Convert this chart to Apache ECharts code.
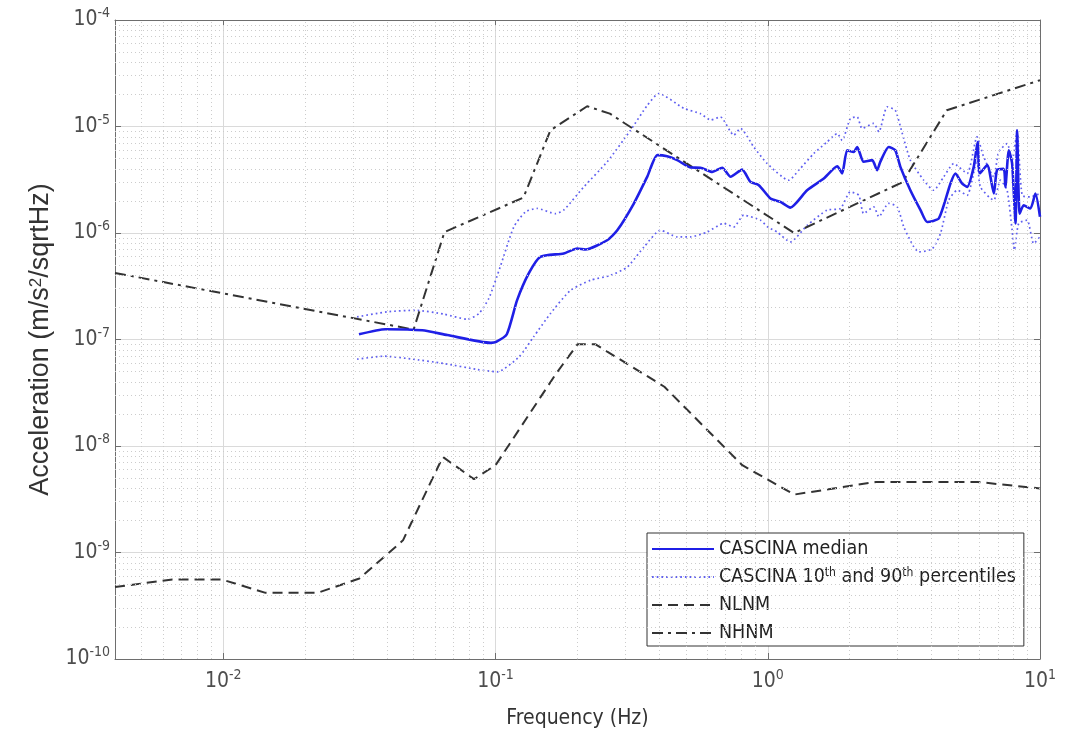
<!DOCTYPE html>
<html>
<head>
<meta charset="utf-8">
<script src="https://cdn.jsdelivr.net/npm/echarts@6/dist/echarts.min.js"></script>
<style>
  html, body { margin: 0; padding: 0; background: #fff; }
  #chart { width: 1066px; height: 735px; }
</style>
</head>
<body>
<div id="chart"></div>
<script>
// values (frequency in Hz, acceleration in m/s^2/sqrtHz)
var medFreq = [0.0315, 0.0394, 0.0538, 0.0665, 0.096, 0.1005, 0.110, 0.120, 0.1324, 0.146, 0.178, 0.1995, 0.214, 0.257, 0.280, 0.322, 0.3606, 0.393, 0.427, 0.465, 0.52, 0.566, 0.625, 0.68, 0.73, 0.805, 0.864, 0.927, 1.023, 1.113, 1.21, 1.395, 1.606, 1.80, 1.876, 1.957, 2.07, 2.13, 2.25, 2.42, 2.52, 2.59, 2.78, 2.94, 3.07, 3.34, 3.64, 3.85, 4.25, 4.69, 4.89, 5.17, 5.40, 5.71, 5.90, 6.01, 6.40, 6.77, 6.95, 7.36, 7.46, 7.68, 7.90, 8.13, 8.24, 8.42, 8.71, 9.22, 9.62, 10];
var medVal = [1.12e-7, 1.25e-7, 1.22e-7, 1.10e-7, 9.3e-8, 9.5e-8, 1.12e-7, 2.34e-7, 4.17e-7, 5.97e-7, 6.43e-7, 7.15e-7, 7.0e-7, 8.55e-7, 1.06e-6, 1.89e-6, 3.37e-6, 5.38e-6, 5.25e-6, 4.83e-6, 4.12e-6, 4.10e-6, 3.75e-6, 4.1e-6, 3.37e-6, 3.94e-6, 3.02e-6, 2.81e-6, 2.11e-6, 1.96e-6, 1.73e-6, 2.52e-6, 3.25e-6, 4.24e-6, 3.62e-6, 5.98e-6, 5.77e-6, 6.43e-6, 4.66e-6, 4.83e-6, 3.89e-6, 4.66e-6, 6.43e-6, 5.98e-6, 4.18e-6, 2.52e-6, 1.64e-6, 1.27e-6, 1.37e-6, 2.92e-6, 3.62e-6, 2.92e-6, 2.71e-6, 4.18e-6, 7.16e-6, 3.62e-6, 4.34e-6, 2.35e-6, 3.89e-6, 4.0e-6, 2.71e-6, 5.98e-6, 4.48e-6, 1.23e-6, 9.2e-6, 1.52e-6, 1.82e-6, 1.70e-6, 2.35e-6, 1.42e-6];

var p90Freq = [0.031, 0.040, 0.0508, 0.0646, 0.0787, 0.0868, 0.0945, 0.104, 0.1167, 0.1288, 0.142, 0.166, 0.178, 0.211, 0.257, 0.313, 0.361, 0.398, 0.492, 0.566, 0.617, 0.67, 0.75, 0.794, 0.888, 0.994, 1.194, 1.30, 1.476, 1.652, 1.80, 1.876, 2.01, 2.13, 2.22, 2.45, 2.56, 2.745, 2.94, 3.12, 3.34, 3.74, 4.07, 4.43, 4.82, 5.40, 5.87, 6.21, 6.76, 7.05, 7.57, 7.90, 8.24, 8.6, 9.22, 10];
var p90Val = [1.63e-7, 1.82e-7, 1.88e-7, 1.73e-7, 1.55e-7, 1.75e-7, 2.43e-7, 4.8e-7, 1.14e-6, 1.58e-6, 1.70e-6, 1.52e-6, 1.64e-6, 2.71e-6, 4.66e-6, 9.2e-6, 1.58e-5, 2.04e-5, 1.48e-5, 1.32e-5, 1.15e-5, 1.23e-5, 8.28e-6, 9.6e-6, 6.43e-6, 4.5e-6, 3.13e-6, 3.89e-6, 5.57e-6, 7.16e-6, 8.6e-6, 7.4e-6, 1.19e-5, 1.23e-5, 9.6e-6, 1.07e-5, 8.9e-6, 1.53e-5, 1.42e-5, 8.6e-6, 4.83e-6, 3.13e-6, 2.52e-6, 3.37e-6, 4.48e-6, 3.62e-6, 7.98e-6, 5.2e-6, 3.37e-6, 5.77e-6, 6.9e-6, 4.83e-6, 8.9e-6, 2.26e-6, 2.18e-6, 2.35e-6];

var p10Freq = [0.031, 0.0389, 0.0487, 0.0646, 0.0857, 0.1014, 0.122, 0.138, 0.159, 0.1886, 0.2234, 0.2645, 0.305, 0.351, 0.4036, 0.465, 0.52, 0.598, 0.689, 0.75, 0.816, 0.94, 1.0, 1.083, 1.21, 1.395, 1.652, 1.85, 2.01, 2.16, 2.25, 2.45, 2.56, 2.78, 2.99, 3.16, 3.44, 3.59, 4.02, 4.31, 4.62, 4.97, 5.40, 5.87, 6.04, 6.76, 7.16, 7.57, 7.90, 8.05, 8.35, 8.97, 9.48, 10];
var p10Val = [6.53e-8, 6.97e-8, 6.58e-8, 5.95e-8, 5.23e-8, 4.97e-8, 6.87e-8, 1.06e-7, 1.75e-7, 2.9e-7, 3.6e-7, 4.0e-7, 4.8e-7, 7.4e-7, 1.06e-6, 9.2e-7, 9.2e-7, 1.02e-6, 1.23e-6, 1.14e-6, 1.47e-6, 1.32e-6, 1.14e-6, 1.02e-6, 8.24e-7, 1.18e-6, 1.64e-6, 1.70e-6, 2.43e-6, 2.26e-6, 1.52e-6, 1.76e-6, 1.42e-6, 1.9e-6, 1.76e-6, 1.14e-6, 7.4e-7, 6.65e-7, 7.1e-7, 9.9e-7, 2.03e-6, 2.52e-6, 2.26e-6, 4.83e-6, 2.71e-6, 2.03e-6, 3.13e-6, 2.52e-6, 1.06e-6, 6.9e-7, 1.23e-6, 1.32e-6, 7.96e-7, 9.2e-7];

var nlnmFreq = [0.004, 0.0065, 0.0099, 0.0143, 0.0222, 0.0316, 0.0457, 0.064, 0.0833, 0.1, 0.167, 0.2, 0.233, 0.417, 0.806, 1.25, 2.5, 5.88, 10];
var nlnmVal = [4.75e-10, 5.57e-10, 5.57e-10, 4.18e-10, 4.18e-10, 5.70e-10, 1.30e-9, 7.9e-9, 4.88e-9, 6.6e-9, 4.8e-8, 9.0e-8, 9.0e-8, 3.6e-8, 6.6e-9, 3.5e-9, 4.6e-9, 4.6e-9, 4.0e-9];

var nhnmFreq = [0.004, 0.05, 0.0649, 0.1266, 0.159, 0.217, 0.263, 1.25, 3.125, 4.545, 10];
var nhnmVal = [4.22e-7, 1.24e-7, 1.02e-6, 2.15e-6, 9.2e-6, 1.55e-5, 1.32e-5, 1.0e-6, 3.0e-6, 1.42e-5, 2.72e-5];

var xMin = 0.004, xMax = 10;
var yMin = 1e-10, yMax = 1e-4;

function zip(f, v) {
  return f.map(function (x, i) { return [x, v[i]]; });
}

// dotted minor grid at 2..9 of each decade
var minorX = [], minorY = [];
for (var n = -3; n <= 0; n++) {
  for (var k = 2; k <= 9; k++) {
    var vx = k * Math.pow(10, n);
    if (vx > xMin && vx < xMax) minorX.push(vx);
  }
}
for (var m = -10; m <= -5; m++) {
  for (var j = 2; j <= 9; j++) minorY.push(j * Math.pow(10, m));
}

var txt = '#4d4d4d';
var font = 'DejaVu Sans Condensed, Liberation Sans, Arial, sans-serif';

function powLabel(v) {
  var e = Math.log10(v);
  var r = Math.round(e);
  if (Math.abs(e - r) > 1e-6) return '';
  return '{b|10}{s|' + r + '}';
}
var powRich = {
  b: { fontSize: 21, color: txt, fontFamily: font, lineHeight: 27 },
  s: { fontSize: 14, color: txt, fontFamily: font, verticalAlign: 'top' }
};

function minorGrid(items) {
  return {
    type: 'line', data: [[xMin, yMin], [xMax, yMax]], z: 1, silent: true,
    symbol: 'none', lineStyle: { opacity: 0 }, tooltip: { show: false },
    markLine: {
      silent: true, symbol: ['none', 'none'], label: { show: false },
      lineStyle: { color: '#cccccc', type: [1, 3], width: 1 },
      emphasis: { disabled: true },
      data: items
    }
  };
}

var chart = echarts.init(document.getElementById('chart'));
var option = {
  backgroundColor: '#fff',
  animation: false,
  textStyle: { fontFamily: font },
  grid: { left: 115, right: 26, top: 20, bottom: 76, containLabel: false },
  legend: {
    orient: 'vertical',
    left: 647,
    top: 533,
    padding: [6, 8, 3, 4],
    itemGap: 8,
    itemWidth: 62,
    itemHeight: 14,
    backgroundColor: '#fff',
    borderColor: '#333',
    borderWidth: 1,
    itemStyle: { opacity: 0 },
    data: ['CASCINA median', 'CASCINA percentiles', 'NLNM', 'NHNM'],
    formatter: function (name) {
      if (name === 'CASCINA percentiles') return 'CASCINA 10{s|th} and 90{s|th} percentiles';
      return name;
    },
    textStyle: {
      fontSize: 19.5, color: '#222', fontFamily: font,
      rich: { s: { fontSize: 12, color: '#222', fontFamily: font, verticalAlign: 'top' } }
    }
  },
  xAxis: [{
    type: 'log', logBase: 10, min: xMin, max: xMax,
    name: 'Frequency (Hz)', nameLocation: 'middle', nameGap: 49,
    nameTextStyle: { fontSize: 21, color: '#333', fontFamily: font },
    axisLine: { lineStyle: { color: '#6e6e6e' } },
    axisTick: { inside: true, length: 6, lineStyle: { color: '#6e6e6e' } },
    axisLabel: { formatter: powLabel, rich: powRich, margin: 9, showMinLabel: false },
    splitLine: { show: true, lineStyle: { color: '#dadada', width: 1 } }
  }, {
    type: 'log', logBase: 10, min: xMin, max: xMax, position: 'top',
    axisLine: { lineStyle: { color: '#6e6e6e' } },
    axisTick: { inside: true, length: 6, lineStyle: { color: '#6e6e6e' } },
    axisLabel: { show: false }, splitLine: { show: false }
  }],
  yAxis: [{
    type: 'log', logBase: 10, min: yMin, max: yMax,
    name: 'Acceleration (m/s{s|2}/sqrtHz)', nameLocation: 'middle', nameGap: 60,
    nameTextStyle: {
      fontSize: 27, color: '#333', fontFamily: 'Liberation Sans, Arial, sans-serif',
      rich: { s: { fontSize: 17, color: '#333', fontFamily: 'Liberation Sans, Arial, sans-serif', verticalAlign: 'top' } }
    },
    axisLine: { lineStyle: { color: '#6e6e6e' } },
    axisTick: { inside: true, length: 6, lineStyle: { color: '#6e6e6e' } },
    axisLabel: { formatter: powLabel, rich: powRich, margin: 5 },
    splitLine: { show: true, lineStyle: { color: '#dadada', width: 1 } }
  }, {
    type: 'log', logBase: 10, min: yMin, max: yMax, position: 'right',
    axisLine: { lineStyle: { color: '#6e6e6e' } },
    axisTick: { inside: true, length: 6, lineStyle: { color: '#6e6e6e' } },
    axisLabel: { show: false }, splitLine: { show: false }
  }],
  series: [
    minorGrid(minorX.map(function (v) { return [{ coord: [v, yMin] }, { coord: [v, yMax] }]; })),
    minorGrid(minorY.map(function (v) { return [{ coord: [xMin, v] }, { coord: [xMax, v] }]; })),
    {
      name: 'CASCINA percentiles', type: 'line', data: zip(p90Freq, p90Val),
      symbol: 'none', smooth: 0.2, z: 3,
      lineStyle: { color: '#5f5ff0', width: 1.7, type: [1.7, 3] },
      itemStyle: { color: '#5f5ff0', opacity: 0 }
    },
    {
      name: 'CASCINA percentiles', type: 'line', data: zip(p10Freq, p10Val),
      symbol: 'none', smooth: 0.2, z: 3,
      lineStyle: { color: '#5f5ff0', width: 1.7, type: [1.7, 3] },
      itemStyle: { color: '#5f5ff0', opacity: 0 }
    },
    {
      name: 'NLNM', type: 'line', data: zip(nlnmFreq, nlnmVal),
      symbol: 'none', z: 3,
      lineStyle: { color: '#333', width: 2, type: [10, 6] },
      itemStyle: { color: '#333', opacity: 0 }
    },
    {
      name: 'NHNM', type: 'line', data: zip(nhnmFreq, nhnmVal),
      symbol: 'none', z: 3,
      lineStyle: { color: '#333', width: 2, type: [11, 5, 3, 5] },
      itemStyle: { color: '#333', opacity: 0 }
    },
    {
      name: 'CASCINA median', type: 'line', data: zip(medFreq, medVal),
      symbol: 'none', smooth: 0.2, z: 4,
      lineStyle: { color: '#1f1fe6', width: 2.6 },
      itemStyle: { color: '#1f1fe6', opacity: 0 }
    }
  ]
};
chart.setOption(option);
</script>
</body>
</html>
